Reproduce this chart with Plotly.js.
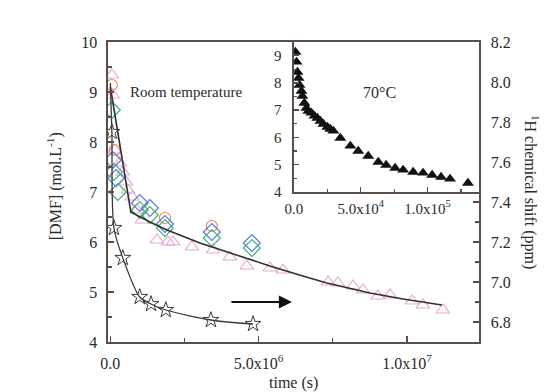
<!DOCTYPE html>
<html>
<head>
<meta charset="utf-8">
<script src="https://cdn.plot.ly/plotly-3.0.1.min.js"></script>
<style>html,body{margin:0;padding:0;background:#fff;}#plot{width:550px;height:392px;}</style>
</head>
<body>
<div id="plot"></div>
<script>
// ---- Room temperature, [DMF] (left axis) ----
const triX = [0.05e6,0.08e6,0.15e6,0.32e6,0.42e6,0.52e6,0.59e6,0.73e6,0.89e6,1.06e6,1.57e6,1.94e6,2.11e6,2.75e6,3.46e6,4.03e6,4.60e6,5.38e6,5.82e6,7.34e6,7.67e6,8.18e6,8.52e6,9.02e6,9.43e6,10.17e6,10.54e6,11.21e6];
const triY = [9.34,8.94,7.84,7.58,7.40,7.20,7.04,6.90,6.64,6.44,6.04,6.00,6.00,5.90,5.84,5.70,5.52,5.48,5.44,5.20,5.18,5.12,5.04,4.92,4.94,4.82,4.74,4.64];

const circX = [0.05e6,0.15e6,1.84e6,3.42e6];
const circY = [9.14,7.84,6.48,6.32];

const blueX = [0.08e6,0.19e6,0.99e6,1.33e6,1.84e6,3.42e6,4.77e6];
const blueY = [7.64,7.28,6.78,6.68,6.36,6.20,5.98];

const greenX = [0.05e6,0.12e6,0.25e6,0.99e6,1.33e6,1.84e6,3.42e6,4.77e6];
const greenY = [8.64,7.40,7.00,6.64,6.54,6.28,6.08,5.88];

const fitX = [0.0,0.35e6,0.66e6,0.69e6,1.33e6,1.91e6,3.02e6,4.13e6,5.38e6,6.49e6,7.30e6,8.75e6,9.87e6,11.18e6];
const fitY = [9.10,7.84,6.74,6.60,6.40,6.24,5.98,5.76,5.52,5.32,5.18,4.98,4.86,4.74];

// ---- Room temperature, 1H chemical shift (right axis) ----
const starX = [0.05e6,0.12e6,0.42e6,0.99e6,1.37e6,1.87e6,3.39e6,4.81e6];
const starY = [7.75,7.27,7.12,6.925,6.89,6.86,6.81,6.79];
const starCurveX = [0.0,0.05e6,0.12e6,0.42e6,0.99e6,1.37e6,1.87e6,3.39e6,4.81e6];
const starCurveY = [7.995,7.75,7.27,7.12,6.925,6.89,6.86,6.81,6.79];

// ---- Inset: 70 °C ----
const insetX = [1.1e3,1.9e3,2.6e3,3.4e3,4.1e3,5.6e3,6.3e3,7.8e3,9.3e3,10.8e3,13.1e3,15.3e3,17.5e3,19.8e3,22.0e3,25.0e3,27.2e3,29.5e3,34.7e3,42.2e3,48.1e3,55.6e3,63.1e3,69.0e3,75.7e3,81.7e3,89.2e3,96.6e3,103.4e3,110.1e3,116.8e3,130.2e3];
const insetY = [9.13,8.77,8.40,8.18,7.92,7.70,7.52,7.26,7.08,6.97,6.90,6.79,6.71,6.60,6.49,6.38,6.31,6.24,5.98,5.69,5.50,5.32,5.10,4.99,4.88,4.81,4.73,4.70,4.62,4.55,4.48,4.33];

// ---- tick labels ----
const xTickVals = [0, 5e6, 1e7];
const xTickText = ['0.0', '5.0x10<sup>6</sup>', '1.0x10<sup>7</sup>'];
const x3TickVals = [0, 5e4, 1e5];
const x3TickText = ['0.0', '5.0x10<sup>4</sup>', '1.0x10<sup>5</sup>'];
const y2TickVals = [6.8, 7.0, 7.2, 7.4, 7.6, 7.8, 8.0, 8.2];

const FONT = 'Liberation Serif, Times New Roman, serif';
const AX = '#5a4d4a';
const TXT = '#2a2a2a';

const traces = [
  {x: triX, y: triY, mode: 'markers', type: 'scatter', xaxis: 'x', yaxis: 'y',
   marker: {symbol: 'triangle-up-open', size: 12, color: '#eba6cf', line: {width: 1.2}}},
  {x: circX, y: circY, mode: 'markers', type: 'scatter', xaxis: 'x', yaxis: 'y',
   marker: {symbol: 'circle-open', size: 11, color: '#f2845a', line: {width: 1.2}}},
  {x: blueX, y: blueY, mode: 'markers', type: 'scatter', xaxis: 'x', yaxis: 'y',
   marker: {symbol: 'diamond-open', size: 13, color: '#5b78d6', line: {width: 1.2}}},
  {x: greenX, y: greenY, mode: 'markers', type: 'scatter', xaxis: 'x', yaxis: 'y',
   marker: {symbol: 'diamond-open', size: 13, color: '#3db57a', line: {width: 1.2}}},
  {x: fitX, y: fitY, mode: 'lines', type: 'scatter', xaxis: 'x', yaxis: 'y',
   line: {color: '#2f2f2f', width: 1.6, shape: 'linear'}},
  {x: starCurveX, y: starCurveY, mode: 'lines', type: 'scatter', xaxis: 'x', yaxis: 'y2',
   line: {color: '#3a3a3a', width: 1.3, shape: 'spline', smoothing: 0.8}},
  {x: starX, y: starY, mode: 'markers', type: 'scatter', xaxis: 'x', yaxis: 'y2',
   marker: {symbol: 'star-open', size: 12, color: '#3a3a3a', line: {width: 1}}},
  {x: insetX, y: insetY, mode: 'markers', type: 'scatter', xaxis: 'x3', yaxis: 'y3',
   marker: {symbol: 'triangle-up', size: 10.5, color: '#111'}}
];

const baseAxis = {
  showline: true, linecolor: AX, linewidth: 1.6, showgrid: false, zeroline: false,
  ticks: 'inside', tickcolor: AX, tickwidth: 1.4, ticklen: 6,
  tickfont: {family: FONT, size: 16, color: TXT}
};

const layout = {
  width: 550, height: 392,
  margin: {l: 108, r: 71, t: 42, b: 50},
  paper_bgcolor: '#fff', plot_bgcolor: '#fff',
  showlegend: false,
  font: {family: FONT, color: TXT},
  xaxis: Object.assign({}, baseAxis, {
    domain: [0, 1], anchor: 'y', range: [-0.08e6, 12.43e6],
    tickmode: 'array', tickvals: xTickVals, ticktext: xTickText, mirror: true,
    ticklabelstandoff: 6,
    minor: {tick0: 0, dtick: 2.5e6, ticks: 'inside', ticklen: 4, tickcolor: AX, tickwidth: 1.2}
  }),
  yaxis: Object.assign({}, baseAxis, {
    domain: [0, 1], anchor: 'x', range: [4, 10], dtick: 1, tick0: 0,
    ticklabelstandoff: 6,
    minor: {dtick: 0.5, ticks: 'inside', ticklen: 4, tickcolor: AX, tickwidth: 1.2}
  }),
  yaxis2: Object.assign({}, baseAxis, {
    overlaying: 'y', side: 'right', anchor: 'x', range: [6.7, 8.2],
    tickmode: 'array', tickvals: y2TickVals, tickformat: '.1f',
    ticklabelstandoff: 7,
    minor: {tick0: 0, dtick: 0.1, ticks: 'inside', ticklen: 4, tickcolor: AX, tickwidth: 1.2}
  }),
  xaxis3: Object.assign({}, baseAxis, {
    domain: [0.5013, 1], anchor: 'y3', range: [0, 1.385e5],
    tickmode: 'array', tickvals: x3TickVals, ticktext: x3TickText, mirror: true,
    ticklen: 5, ticklabelstandoff: 2,
    tickfont: {family: FONT, size: 15, color: TXT},
    minor: {tick0: 0, dtick: 2.5e4, ticks: 'inside', ticklen: 3, tickcolor: AX, tickwidth: 1.2}
  }),
  yaxis3: Object.assign({}, baseAxis, {
    domain: [0.5, 1], anchor: 'x3', range: [4, 9.5], dtick: 1, tick0: 0, mirror: true,
    ticklen: 5, ticklabelstandoff: 8,
    tickfont: {family: FONT, size: 15, color: TXT},
    minor: {dtick: 0.5, ticks: 'inside', ticklen: 3, tickcolor: AX, tickwidth: 1.2}
  }),
  annotations: [
    {xref: 'paper', yref: 'paper', x: 0.054, y: 0.833, text: 'Room temperature', showarrow: false,
     xanchor: 'left', yanchor: 'middle', font: {family: FONT, size: 15, color: TXT}},
    {xref: 'paper', yref: 'paper', x: 0.733, y: 0.833, text: '70°C', showarrow: false,
     xanchor: 'center', yanchor: 'middle', font: {family: FONT, size: 16, color: TXT}},
    {xref: 'paper', yref: 'paper', x: 0.5, y: -0.135, text: 'time (s)', showarrow: false,
     xanchor: 'center', yanchor: 'middle', font: {family: FONT, size: 16, color: TXT}},
    {xref: 'paper', yref: 'paper', x: -0.145, y: 0.52, text: '[DMF] (mol.L<sup>-1</sup>)', showarrow: false,
     textangle: -90, xanchor: 'center', yanchor: 'middle', font: {family: FONT, size: 16, color: TXT}},
    {xref: 'paper', yref: 'paper', x: 1.143, y: 0.5, text: '<sup>1</sup>H chemical shift (ppm)', showarrow: false,
     textangle: 90, xanchor: 'center', yanchor: 'middle', font: {family: FONT, size: 16, color: TXT}},
    {xref: 'x', yref: 'y', axref: 'x', ayref: 'y', x: 6.12e6, y: 4.8, ax: 4.03e6, ay: 4.8,
     text: '', showarrow: true, arrowhead: 2, arrowsize: 1.3, arrowwidth: 2, arrowcolor: '#111'}
  ]
};

Plotly.newPlot('plot', traces, layout, {displayModeBar: false, staticPlot: true});
</script>
</body>
</html>
